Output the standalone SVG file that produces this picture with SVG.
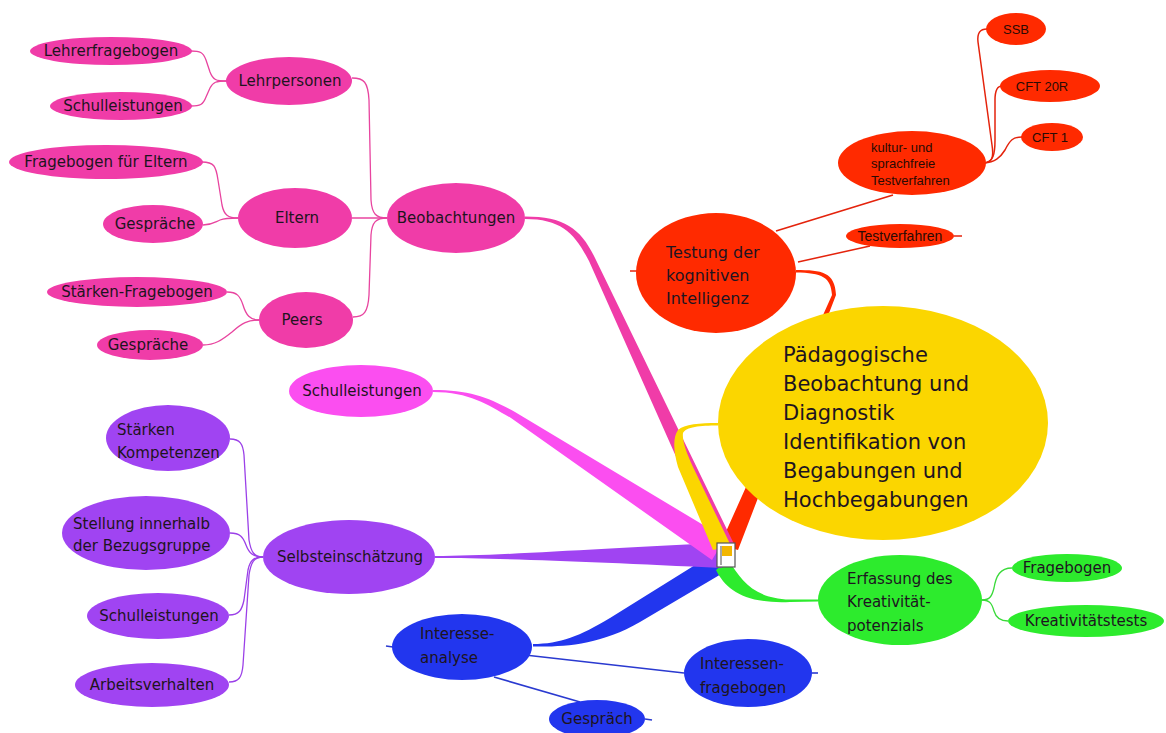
<svg xmlns="http://www.w3.org/2000/svg" width="1166" height="733" viewBox="0 0 1166 733">
<style>
.t{font-family:"DejaVu Sans",sans-serif;font-size:15px;fill:#1e1420}
.ts{font-family:"Liberation Sans",Arial,sans-serif;font-size:13px;fill:#2a0a04}
.pk{fill:#f03ca8}
.mg{fill:#fb4ef0}
.pu{fill:#a044f2}
.bl{fill:#2236ee}
.rd{fill:#ff2a00}
.ye{fill:#fbd600}
.gr{fill:#2deb2d}
.lpk{fill:none;stroke:#e8449f;stroke-width:1.3}
.lpu{fill:none;stroke:#9b40e8;stroke-width:1.3}
.lrd{fill:none;stroke:#e4230c;stroke-width:1.5}
.lbl{fill:none;stroke:#2a3ad0;stroke-width:1.6}
.lgr{fill:none;stroke:#3ada3a;stroke-width:1.3}
</style>
<rect width="1166" height="733" fill="#ffffff"/>
<g id="connectors">
  <!-- main tapered branches -->
  <path class="rd" d="M796,270 C822,270 835,272 836,295 L738,550 L720,545 L832,295 C831,277 822,273 796,272.5 Z"/>
  <path class="bl" d="M533,644 C560,644 580,636 610,618 L716,552 L728,570 L640,622 C600,645 565,647 533,646.5 Z"/>
  <path class="gr" d="M728,560 C742,580 752,598 790,599.5 L818,599.5 L818,601.5 L790,602 C745,604 726,590 716,570 Z"/>
  <path class="pu" d="M435,556 C500,556 600,548 722,543 L722,568 C600,562 500,558 435,558 Z"/>
  <path class="mg" d="M433,390 C470,390 490,398 515,412 L725,538 L712,560 L511,418 C488,405 470,392 433,392 Z"/>
  <path class="pk" d="M525,216.5 C565,216.5 581,229 595,258 L734,544 L718,551 L589,261 C575,234 562,219 525,219 Z"/>
  <path class="ye" d="M718,423 C700,423 684,424 678,430 C673,437 673,450 678,467 L713,550 L731,546 L693,467 C686,452 682,440 683,433 C686,427 700,425.5 718,425.5 Z"/>
  <!-- pink tree -->
  <path class="lpk" d="M191,51 C200,51 203,52 206,60 L210,72 C213,80 216,81 227,81"/>
  <path class="lpk" d="M191,106 C200,106 203,105 206,97 L210,88 C213,82 216,81 227,81"/>
  <path class="lpk" d="M202,162 C214,162 216,166 218,180 L222,205 C224,215 228,218 238,218"/>
  <path class="lpk" d="M203,225 C212,225 215,222 220,220 C225,218 230,218 238,218"/>
  <path class="lpk" d="M227,292 C237,292 240,296 243,305 C246,315 250,320 259,320"/>
  <path class="lpk" d="M203,345 C215,345 222,340 232,332 C242,323 248,320 259,320"/>
  <path class="lpk" d="M352,78 C364,78 368,82 369,100 L371,200 C372,214 376,218 387,218"/>
  <path class="lpk" d="M352,218 L387,218"/>
  <path class="lpk" d="M353,317 C364,317 368,312 369,295 L371,235 C372,222 376,218 387,218"/>
  <!-- purple tree -->
  <path class="lpu" d="M230,439 C240,439 243,444 244,455 L249,540 C251,552 254,557 263,557"/>
  <path class="lpu" d="M230,533 C240,533 243,537 246,545 C249,553 253,557 263,557"/>
  <path class="lpu" d="M229,615 C239,615 242,610 244,600 L248,570 C250,560 254,557 263,557"/>
  <path class="lpu" d="M229,682 C239,682 242,677 243,665 L249,575 C251,562 254,557 263,557"/>
  <!-- green tree -->
  <path class="lgr" d="M982,600 C990,600 992,596 994,588 C996,576 1000,568 1012,568"/>
  <path class="lgr" d="M982,600 C990,600 992,604 994,611 C996,618 1000,621 1008,621"/>
  <!-- red tree -->
  <path class="lrd" d="M776,231 L893,195"/>
  <path class="lrd" d="M798,262 L870,246"/>
  <path class="lrd" d="M984,163 C992,162 994,158 992,145 L978,42 C977,33 980,29 987,29"/>
  <path class="lrd" d="M984,163 C993,162 995,155 995,140 L995,100 C995,90 997,86 1002,86"/>
  <path class="lrd" d="M984,163 C995,162 1000,158 1005,150 C1010,140 1013,137 1022,137"/>
  <path class="lrd" d="M954,236 L962,236"/>
  <path class="lrd" d="M637,271 L630,271"/>
  <!-- blue tree -->
  <path class="lbl" d="M525,655 L684,673"/>
  <path class="lbl" d="M494,677 L580,702"/>
  <path class="lbl" d="M393,647 L386,646"/>
  <path class="lbl" d="M812,673 L818,673"/>
  <path class="lbl" d="M645,719 L652,720"/>
</g>
<g id="center">
  <ellipse class="ye" cx="883" cy="423" rx="165" ry="117"/>
  <text class="t" style="font-size:21px" x="783" y="362">Pädagogische</text>
  <text class="t" style="font-size:21px" x="783" y="391">Beobachtung und</text>
  <text class="t" style="font-size:21px" x="783" y="420">Diagnostik</text>
  <text class="t" style="font-size:21px" x="783" y="449">Identifikation von</text>
  <text class="t" style="font-size:21px" x="783" y="478">Begabungen und</text>
  <text class="t" style="font-size:21px" x="783" y="507">Hochbegabungen</text>
</g>
<g id="hub">
  <rect x="717" y="543" width="18" height="24" fill="#ffffff" stroke="#555" stroke-width="1.2"/>
  <rect x="722" y="546" width="10" height="10" fill="#f2b600"/>
  <line x1="721" y1="546" x2="721" y2="565" stroke="#888" stroke-width="1.5"/>
</g>
<g id="n-lehrerfragebogen"><ellipse class="pk" cx="111" cy="51" rx="81" ry="14"/><text class="t" x="111" y="56" text-anchor="middle">Lehrerfragebogen</text></g>
<g id="n-schulleistungen1"><ellipse class="pk" cx="121" cy="106" rx="71" ry="14"/><text class="t" x="123" y="111" text-anchor="middle">Schulleistungen</text></g>
<g id="n-lehrpersonen"><ellipse class="pk" cx="289" cy="81" rx="63" ry="24"/><text class="t" x="290" y="86" text-anchor="middle">Lehrpersonen</text></g>
<g id="n-fragebogen-eltern"><ellipse class="pk" cx="106" cy="162" rx="97" ry="17"/><text class="t" x="106" y="167" text-anchor="middle">Fragebogen für Eltern</text></g>
<g id="n-gespraeche1"><ellipse class="pk" cx="153" cy="224" rx="50" ry="19"/><text class="t" x="155" y="229" text-anchor="middle">Gespräche</text></g>
<g id="n-eltern"><ellipse class="pk" cx="295" cy="218" rx="57" ry="30"/><text class="t" x="297" y="223" text-anchor="middle">Eltern</text></g>
<g id="n-staerken-fragebogen"><ellipse class="pk" cx="137" cy="292" rx="90" ry="15"/><text class="t" x="137" y="297" text-anchor="middle">Stärken-Fragebogen</text></g>
<g id="n-gespraeche2"><ellipse class="pk" cx="150" cy="345" rx="53" ry="15"/><text class="t" x="148" y="350" text-anchor="middle">Gespräche</text></g>
<g id="n-peers"><ellipse class="pk" cx="306" cy="320" rx="47" ry="28"/><text class="t" x="302" y="325" text-anchor="middle">Peers</text></g>
<g id="n-beobachtungen"><ellipse class="pk" cx="456" cy="218" rx="69" ry="35"/><text class="t" x="456" y="223" text-anchor="middle">Beobachtungen</text></g>
<g id="n-schulleistungen2"><ellipse class="mg" cx="361" cy="391" rx="72" ry="26"/><text class="t" x="362" y="396" text-anchor="middle">Schulleistungen</text></g>
<g id="n-selbst"><ellipse class="pu" cx="349" cy="557" rx="86" ry="37"/><text class="t" x="350" y="562" text-anchor="middle">Selbsteinschätzung</text></g>
<g id="n-staerken"><ellipse class="pu" cx="168" cy="438" rx="62" ry="33"/><text class="t" x="117" y="435">Stärken</text><text class="t" x="117" y="458">Kompetenzen</text></g>
<g id="n-stellung"><ellipse class="pu" cx="146" cy="533" rx="84" ry="37"/><text class="t" x="73" y="529">Stellung innerhalb</text><text class="t" x="73" y="551">der Bezugsgruppe</text></g>
<g id="n-schulleistungen3"><ellipse class="pu" cx="158" cy="616" rx="71" ry="23"/><text class="t" x="159" y="621" text-anchor="middle">Schulleistungen</text></g>
<g id="n-arbeitsverhalten"><ellipse class="pu" cx="152" cy="685" rx="77" ry="22"/><text class="t" x="152" y="690" text-anchor="middle">Arbeitsverhalten</text></g>
<g id="n-interesse"><ellipse class="bl" cx="462" cy="647" rx="70" ry="33"/><text class="t" x="420" y="639">Interesse-</text><text class="t" x="420" y="663">analyse</text></g>
<g id="n-interessen-fragebogen"><ellipse class="bl" cx="748" cy="673" rx="64" ry="34"/><text class="t" x="700" y="669">Interessen-</text><text class="t" x="700" y="693">fragebogen</text></g>
<g id="n-gespraech"><ellipse class="bl" cx="597" cy="719" rx="48" ry="19"/><text class="t" x="597" y="724" text-anchor="middle">Gespräch</text></g>
<g id="n-erfassung"><ellipse class="gr" cx="900" cy="600" rx="82" ry="45"/><text class="t" x="847" y="584">Erfassung des</text><text class="t" x="847" y="607">Kreativität-</text><text class="t" x="847" y="631">potenzials</text></g>
<g id="n-fragebogen-gr"><ellipse class="gr" cx="1067" cy="568" rx="55" ry="14"/><text class="t" x="1067" y="573" text-anchor="middle">Fragebogen</text></g>
<g id="n-kreativitaetstests"><ellipse class="gr" cx="1086" cy="621" rx="78" ry="16"/><text class="t" x="1086" y="626" text-anchor="middle">Kreativitätstests</text></g>
<g id="n-testung"><ellipse class="rd" cx="716" cy="273" rx="80" ry="60"/><text class="t" style="font-size:16px" x="666" y="258">Testung der</text><text class="t" style="font-size:16px" x="666" y="281">kognitiven</text><text class="t" style="font-size:16px" x="666" y="304">Intelligenz</text></g>
<g id="n-testverfahren"><ellipse class="rd" cx="900" cy="236" rx="54" ry="12"/><text class="ts" style="font-size:14px" x="900" y="241" text-anchor="middle">Testverfahren</text></g>
<g id="n-kultur"><ellipse class="rd" cx="912" cy="163" rx="74" ry="32"/><text class="ts" x="871" y="152">kultur- und</text><text class="ts" x="871" y="168">sprachfreie</text><text class="ts" x="871" y="185">Testverfahren</text></g>
<g id="n-ssb"><ellipse class="rd" cx="1016" cy="29" rx="30" ry="16"/><text class="ts" x="1016" y="34" text-anchor="middle">SSB</text></g>
<g id="n-cft20r"><ellipse class="rd" cx="1050" cy="86" rx="50" ry="16"/><text class="ts" x="1042" y="91" text-anchor="middle">CFT 20R</text></g>
<g id="n-cft1"><ellipse class="rd" cx="1052" cy="137" rx="31" ry="14"/><text class="ts" x="1050" y="142" text-anchor="middle">CFT 1</text></g>
</svg>
